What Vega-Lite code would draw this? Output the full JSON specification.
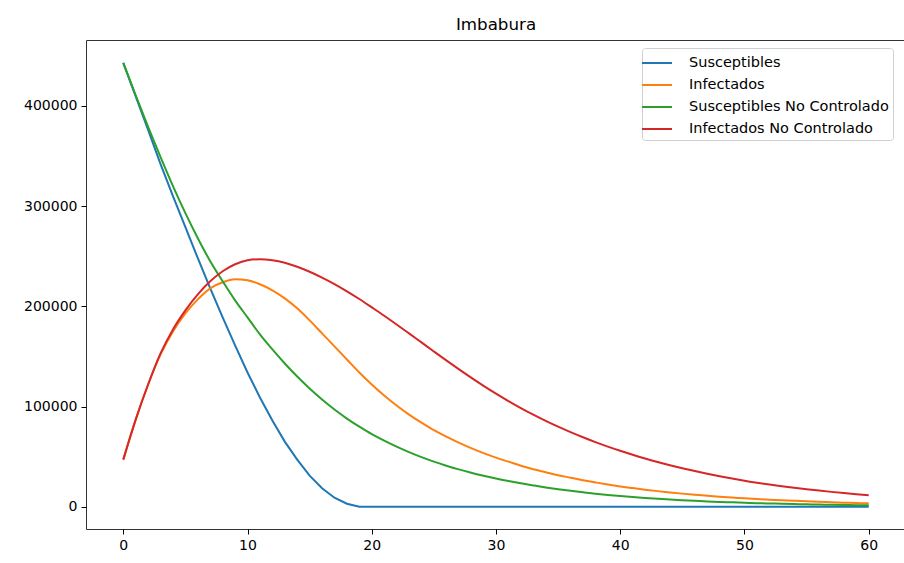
{
  "$schema": "https://vega.github.io/schema/vega-lite/v6.json",
  "autosize": {"type": "none"},
  "width": 820,
  "height": 489,
  "padding": {"left": 86, "top": 40, "right": 0, "bottom": 34},
  "background": "white",
  "title": {"text": "Imbabura", "fontSize": 16.7, "font": "DejaVu Sans", "fontWeight": "normal", "color": "#000", "offset": 6, "anchor": "middle"},
  "data": {"values": [
    {"t":0,"Susceptibles":443000,"Infectados":47000,"Susceptibles No Controlado":443000,"Infectados No Controlado":47000},
    {"t":1,"Susceptibles":409500,"Infectados":87000,"Susceptibles No Controlado":410500,"Infectados No Controlado":87000},
    {"t":2,"Susceptibles":376000,"Infectados":122000,"Susceptibles No Controlado":379000,"Infectados No Controlado":122000},
    {"t":3,"Susceptibles":342000,"Infectados":152000,"Susceptibles No Controlado":349000,"Infectados No Controlado":153000},
    {"t":4,"Susceptibles":310000,"Infectados":175000,"Susceptibles No Controlado":320000,"Infectados No Controlado":177000},
    {"t":5,"Susceptibles":279000,"Infectados":193000,"Susceptibles No Controlado":293000,"Infectados No Controlado":196000},
    {"t":6,"Susceptibles":248000,"Infectados":207000,"Susceptibles No Controlado":268000,"Infectados No Controlado":212000},
    {"t":7,"Susceptibles":218000,"Infectados":218000,"Susceptibles No Controlado":245000,"Infectados No Controlado":225000},
    {"t":8,"Susceptibles":189000,"Infectados":224000,"Susceptibles No Controlado":225000,"Infectados No Controlado":235000},
    {"t":9,"Susceptibles":161000,"Infectados":227000,"Susceptibles No Controlado":206000,"Infectados No Controlado":242000},
    {"t":10,"Susceptibles":134000,"Infectados":226000,"Susceptibles No Controlado":189000,"Infectados No Controlado":246000},
    {"t":11,"Susceptibles":109000,"Infectados":222000,"Susceptibles No Controlado":172000,"Infectados No Controlado":247000},
    {"t":12,"Susceptibles":86000,"Infectados":216000,"Susceptibles No Controlado":157000,"Infectados No Controlado":246000},
    {"t":13,"Susceptibles":65000,"Infectados":208000,"Susceptibles No Controlado":143000,"Infectados No Controlado":243500},
    {"t":14,"Susceptibles":47000,"Infectados":198000,"Susceptibles No Controlado":130000,"Infectados No Controlado":239500},
    {"t":15,"Susceptibles":31000,"Infectados":186000,"Susceptibles No Controlado":118000,"Infectados No Controlado":234500},
    {"t":16,"Susceptibles":18500,"Infectados":173000,"Susceptibles No Controlado":107000,"Infectados No Controlado":228700},
    {"t":17,"Susceptibles":9000,"Infectados":160000,"Susceptibles No Controlado":97000,"Infectados No Controlado":222200},
    {"t":18,"Susceptibles":3000,"Infectados":147000,"Susceptibles No Controlado":88000,"Infectados No Controlado":215000},
    {"t":19,"Susceptibles":0,"Infectados":134000,"Susceptibles No Controlado":80000,"Infectados No Controlado":207300},
    {"t":20,"Susceptibles":0,"Infectados":122000,"Susceptibles No Controlado":72500,"Infectados No Controlado":199000},
    {"t":21,"Susceptibles":0,"Infectados":111000,"Susceptibles No Controlado":66000,"Infectados No Controlado":190600},
    {"t":22,"Susceptibles":0,"Infectados":101000,"Susceptibles No Controlado":60000,"Infectados No Controlado":181900},
    {"t":23,"Susceptibles":0,"Infectados":92000,"Susceptibles No Controlado":54500,"Infectados No Controlado":173000},
    {"t":24,"Susceptibles":0,"Infectados":84000,"Susceptibles No Controlado":49500,"Infectados No Controlado":164000},
    {"t":25,"Susceptibles":0,"Infectados":76500,"Susceptibles No Controlado":45000,"Infectados No Controlado":155000},
    {"t":26,"Susceptibles":0,"Infectados":70000,"Susceptibles No Controlado":41000,"Infectados No Controlado":146100},
    {"t":27,"Susceptibles":0,"Infectados":64000,"Susceptibles No Controlado":37300,"Infectados No Controlado":137400},
    {"t":28,"Susceptibles":0,"Infectados":58500,"Susceptibles No Controlado":34000,"Infectados No Controlado":128900},
    {"t":29,"Susceptibles":0,"Infectados":53500,"Susceptibles No Controlado":31000,"Infectados No Controlado":120700},
    {"t":30,"Susceptibles":0,"Infectados":49000,"Susceptibles No Controlado":28200,"Infectados No Controlado":112900},
    {"t":31,"Susceptibles":0,"Infectados":45000,"Susceptibles No Controlado":25700,"Infectados No Controlado":105500},
    {"t":32,"Susceptibles":0,"Infectados":41000,"Susceptibles No Controlado":23400,"Infectados No Controlado":98500},
    {"t":33,"Susceptibles":0,"Infectados":37500,"Susceptibles No Controlado":21300,"Infectados No Controlado":91900},
    {"t":34,"Susceptibles":0,"Infectados":34500,"Susceptibles No Controlado":19300,"Infectados No Controlado":85700},
    {"t":35,"Susceptibles":0,"Infectados":31500,"Susceptibles No Controlado":17500,"Infectados No Controlado":79900},
    {"t":36,"Susceptibles":0,"Infectados":29000,"Susceptibles No Controlado":15900,"Infectados No Controlado":74450},
    {"t":37,"Susceptibles":0,"Infectados":26500,"Susceptibles No Controlado":14400,"Infectados No Controlado":69350},
    {"t":38,"Susceptibles":0,"Infectados":24300,"Susceptibles No Controlado":13000,"Infectados No Controlado":64550},
    {"t":39,"Susceptibles":0,"Infectados":22200,"Susceptibles No Controlado":11800,"Infectados No Controlado":60050},
    {"t":40,"Susceptibles":0,"Infectados":20300,"Susceptibles No Controlado":10700,"Infectados No Controlado":55850},
    {"t":41,"Susceptibles":0,"Infectados":18600,"Susceptibles No Controlado":9700,"Infectados No Controlado":51900},
    {"t":42,"Susceptibles":0,"Infectados":17000,"Susceptibles No Controlado":8800,"Infectados No Controlado":48200},
    {"t":43,"Susceptibles":0,"Infectados":15600,"Susceptibles No Controlado":8000,"Infectados No Controlado":44750},
    {"t":44,"Susceptibles":0,"Infectados":14300,"Susceptibles No Controlado":7200,"Infectados No Controlado":41500},
    {"t":45,"Susceptibles":0,"Infectados":13100,"Susceptibles No Controlado":6500,"Infectados No Controlado":38450},
    {"t":46,"Susceptibles":0,"Infectados":12000,"Susceptibles No Controlado":5900,"Infectados No Controlado":35600},
    {"t":47,"Susceptibles":0,"Infectados":11000,"Susceptibles No Controlado":5300,"Infectados No Controlado":32950},
    {"t":48,"Susceptibles":0,"Infectados":10000,"Susceptibles No Controlado":4800,"Infectados No Controlado":30450},
    {"t":49,"Susceptibles":0,"Infectados":9200,"Susceptibles No Controlado":4400,"Infectados No Controlado":28100},
    {"t":50,"Susceptibles":0,"Infectados":8400,"Susceptibles No Controlado":4000,"Infectados No Controlado":25900},
    {"t":51,"Susceptibles":0,"Infectados":7700,"Susceptibles No Controlado":3600,"Infectados No Controlado":23950},
    {"t":52,"Susceptibles":0,"Infectados":7000,"Susceptibles No Controlado":3300,"Infectados No Controlado":22150},
    {"t":53,"Susceptibles":0,"Infectados":6400,"Susceptibles No Controlado":3000,"Infectados No Controlado":20470},
    {"t":54,"Susceptibles":0,"Infectados":5900,"Susceptibles No Controlado":2700,"Infectados No Controlado":18910},
    {"t":55,"Susceptibles":0,"Infectados":5400,"Susceptibles No Controlado":2400,"Infectados No Controlado":17460},
    {"t":56,"Susceptibles":0,"Infectados":4900,"Susceptibles No Controlado":2200,"Infectados No Controlado":16110},
    {"t":57,"Susceptibles":0,"Infectados":4500,"Susceptibles No Controlado":2000,"Infectados No Controlado":14850},
    {"t":58,"Susceptibles":0,"Infectados":4100,"Susceptibles No Controlado":1800,"Infectados No Controlado":13680},
    {"t":59,"Susceptibles":0,"Infectados":3700,"Susceptibles No Controlado":1600,"Infectados No Controlado":12590},
    {"t":60,"Susceptibles":0,"Infectados":3400,"Susceptibles No Controlado":1500,"Infectados No Controlado":11570}
  ]},
  "transform": [
    {"fold": ["Susceptibles", "Infectados", "Susceptibles No Controlado", "Infectados No Controlado"], "as": ["serie", "valor"]}
  ],
  "encoding": {
    "x": {"field": "t", "type": "quantitative", "scale": {"domain": [-3, 63], "nice": false, "zero": false},
      "axis": {"values": [0, 10, 20, 30, 40, 50, 60], "title": null, "labelPadding": 4}},
    "y": {"field": "valor", "type": "quantitative", "scale": {"domain": [-22200, 465800], "nice": false, "zero": false},
      "axis": {"values": [0, 100000, 200000, 300000, 400000], "format": "d", "title": null, "labelPadding": 4}},
    "color": {"field": "serie", "type": "nominal",
      "scale": {"domain": ["Susceptibles", "Infectados", "Susceptibles No Controlado", "Infectados No Controlado"],
                "range": ["#1f77b4", "#ff7f0e", "#2ca02c", "#d62728"]},
      "legend": {"title": null, "orient": "none", "legendX": 556, "legendY": 8, "labelLimit": 0}}
  },
  "layer": [
    {"transform": [{"filter": "datum.serie == 'Susceptibles'"}],
     "mark": {"type": "line", "strokeWidth": 2}},
    {"transform": [{"filter": "datum.serie != 'Susceptibles'"}],
     "mark": {"type": "line", "strokeWidth": 2, "interpolate": "monotone"}}
  ],
  "config": {
    "view": {"stroke": "#333", "strokeWidth": 1},
    "axis": {"domain": false, "grid": false, "tickColor": "#000", "tickSize": 5, "tickWidth": 1,
             "labelFont": "DejaVu Sans", "labelFontSize": 14, "labelColor": "#000"},
    "legend": {"padding": 4, "strokeColor": "#d0d0d0", "fillColor": "white", "cornerRadius": 3,
               "symbolType": "M-1.5,0H1.5", "symbolSize": 400, "symbolStrokeWidth": 2, "labelFont": "DejaVu Sans",
               "labelFontSize": 14.5, "labelColor": "#000", "labelOffset": 21, "rowPadding": 4}
  }
}
